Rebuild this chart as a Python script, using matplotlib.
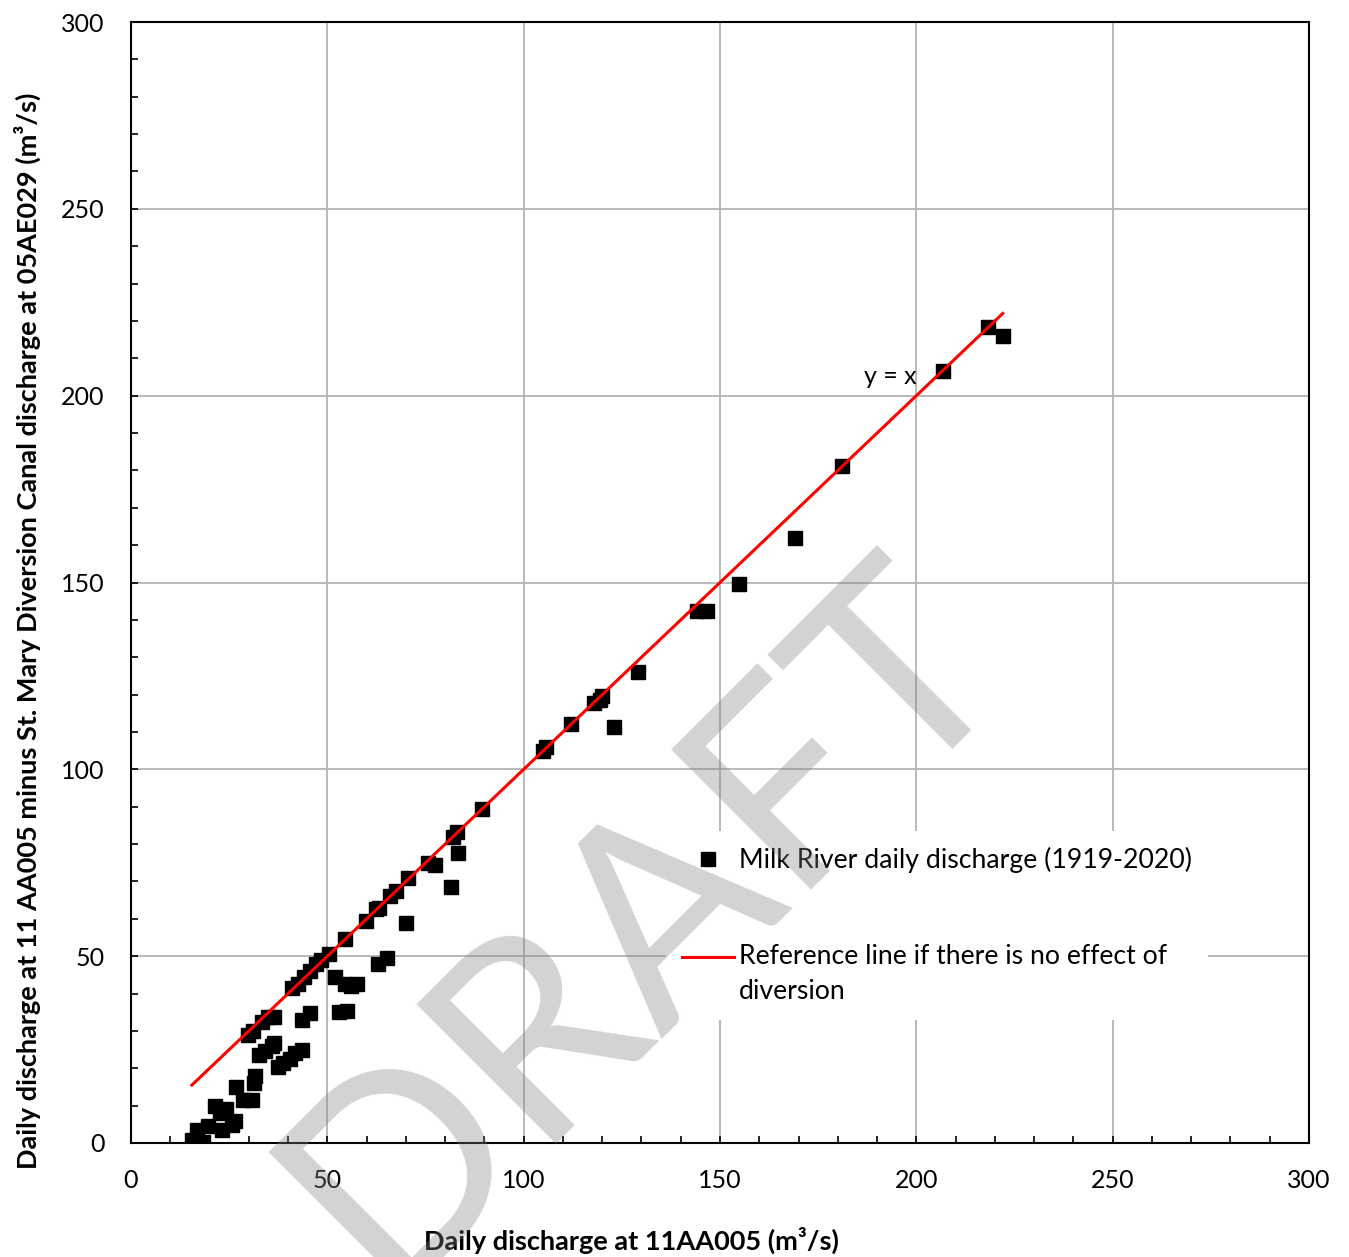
import matplotlib
matplotlib.use("Agg")
import matplotlib.pyplot as plt
from matplotlib.ticker import MultipleLocator
from matplotlib.legend_handler import HandlerLine2D
from matplotlib.transforms import Affine2D

plt.rcParams['font.family'] = ['Lato', 'DejaVu Sans']

# Daily discharge at 11AA005 (m3/s)
upstream_flow = [
    15.5, 18.3, 16.8, 19.6, 22.7, 21.4, 23.2, 24.2, 25.7, 26.5,
    26.8, 28.5, 30.8, 31.6, 31.2, 32.5, 34.1, 35.9, 36.5, 37.4,
    38.7, 40.5, 41.8, 43.5, 29.8, 31.0, 33.4, 35.0, 36.5, 43.5,
    45.5, 53.0, 55.0, 41.0, 42.5, 44.0, 45.5, 47.0, 48.5, 50.3,
    52.0, 54.5, 56.0, 57.5, 54.5, 59.8, 62.5, 63.2, 62.9, 65.2,
    66.0, 67.5, 70.0, 70.5, 75.6, 77.4, 81.5, 82.0, 83.0, 83.3,
    89.4, 105.0, 105.8, 112.0, 117.9, 119.9, 119.5, 123.0, 129.0, 144.2,
    146.7, 154.8, 169.1, 181.1, 206.8, 218.2, 222.0,
]
# Daily discharge at 11AA005 minus St. Mary Diversion Canal at 05AE029 (m3/s)
net_flow = [
    0.8, 0.3, 3.5, 4.5, 8.0, 10.0, 3.5, 9.0, 4.8, 6.0,
    15.0, 11.5, 11.5, 18.0, 16.0, 23.5, 24.5, 26.0, 26.8, 20.3,
    21.5, 22.5, 24.0, 25.0, 29.0, 30.0, 32.5, 33.6, 33.8, 33.0,
    34.8, 35.0, 35.2, 41.5, 42.5, 44.5, 46.0, 48.0, 49.0, 50.5,
    44.5, 42.5, 42.0, 42.5, 54.5, 59.5, 62.5, 63.0, 47.8, 49.5,
    66.0, 67.5, 59.0, 70.8, 75.0, 74.5, 68.5, 82.0, 83.3, 77.5,
    89.4, 105.0, 106.0, 112.0, 117.7, 119.5, 118.5, 111.3, 126.0, 142.3,
    142.3, 149.5, 162.0, 181.2, 206.5, 218.5, 216.0,
]

series_label = "Milk River daily discharge (1919-2020)"
reference_label = "Reference line if there is no effect of\ndiversion"
x_title = "Daily discharge at 11AA005 (m³/s)"
y_title = "Daily discharge at 11 AA005 minus St. Mary Diversion Canal discharge at 05AE029 (m³/s)"

# 1:1 line spanning the observed range
ref_x = [min(upstream_flow), max(upstream_flow)]
ref_y = ref_x

LEG_FS = 19.2
LINE_SPACING = 1.5
LINE_GAP_PX = 36


class FirstLineHandler(HandlerLine2D):
    """Line handle aligned with the first line of a two-line label."""

    def create_artists(self, legend, orig_handle, xdescent, ydescent, width,
                       height, fontsize, trans):
        shifted = trans + Affine2D().translate(0, LINE_GAP_PX / 2)
        return super().create_artists(legend, orig_handle, xdescent, ydescent,
                                      width, height, fontsize, shifted)


fig = plt.figure(figsize=(13.49, 12.57), dpi=100)
ax = fig.add_axes([131 / 1349, 1 - 1143 / 1257, (1309 - 131) / 1349, (1143 - 22) / 1257])

ax.plot(upstream_flow, net_flow, linestyle='none', marker='s', markersize=10,
        color='black', label=series_label, zorder=3)
ref_line, = ax.plot(ref_x, ref_y, color='#ff0000', linewidth=2.2,
                    label=reference_label, zorder=4)

ax.text(193.3, 205, "y = x", fontsize=18, ha='center', va='center', zorder=5)

ax.set_xlim(0, 300)
ax.set_ylim(0, 300)
ax.xaxis.set_major_locator(MultipleLocator(50))
ax.yaxis.set_major_locator(MultipleLocator(50))
ax.xaxis.set_minor_locator(MultipleLocator(10))
ax.yaxis.set_minor_locator(MultipleLocator(10))
ax.tick_params(which='both', direction='in', length=5, width=1.2, color='black',
               top=False, right=False)
ax.tick_params(which='major', labelsize=18, pad=19)
ax.grid(which='major', color='#b3b3b3', linewidth=1.3, zorder=0)
ax.set_axisbelow(True)
for sp in ax.spines.values():
    sp.set_linewidth(1.5)
    sp.set_color('black')

fig.text(631 / 1349, 1 - 1240 / 1257, x_title, fontsize=19.5, fontweight='bold',
         ha='center', va='center')
fig.text(27 / 1349, 1 - 631 / 1257, y_title, fontsize=19.5, fontweight='bold',
         ha='center', va='center', rotation=90)

leg = ax.legend(loc='upper left', bbox_to_anchor=(0.443, 0.290), frameon=True,
                fontsize=LEG_FS, handlelength=1.95, handletextpad=0.19,
                labelspacing=2.66, borderpad=0.6, borderaxespad=0.5, fancybox=False,
                handler_map={ref_line: FirstLineHandler()})
for t in leg.get_texts():
    t.set_linespacing(LINE_SPACING)
leg.get_frame().set_facecolor('white')
leg.get_frame().set_edgecolor('none')
leg.get_frame().set_alpha(1)
leg.set_zorder(6)

# Translucent watermark across the plot
fig.text(643 / 1349, 1 - 922 / 1257, "DRAFT", fontsize=199, color='#808080', alpha=0.35,
         ha='center', va='center', rotation=45, rotation_mode='anchor', zorder=10)

fig.savefig("out.png", dpi=100)
